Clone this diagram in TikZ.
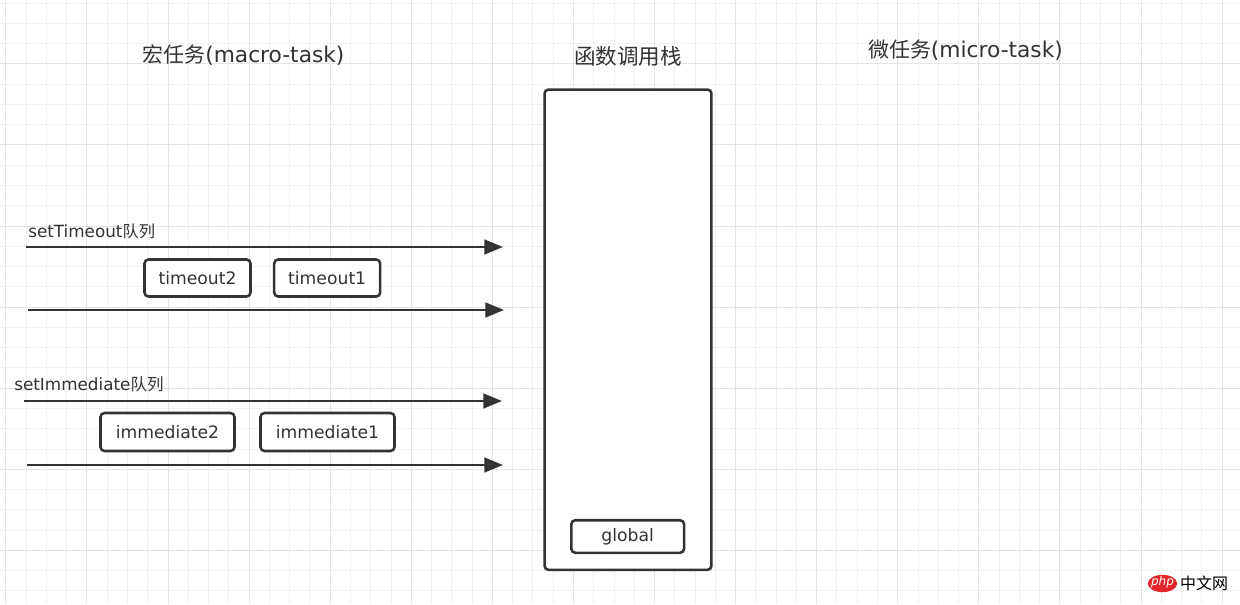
\documentclass[tikz,border=0pt]{standalone}
\usepackage{fontspec}
\setmainfont{DejaVu Sans}
\newfontfamily\cjk{Noto Sans CJK SC}
\usetikzlibrary{arrows.meta,shapes.geometric}
\definecolor{ink}{HTML}{333333}
\definecolor{gridminor}{HTML}{F1F1F1}
\definecolor{gridmajor}{HTML}{E4E4E4}
\definecolor{phpred}{HTML}{E3262B}
\tikzset{
  minorline/.style={draw=gridminor, line width=0.75pt},
  majorline/.style={draw=gridmajor, line width=0.75pt},
  taskbox/.style={draw=ink, line width=1.9pt, rounded corners=3pt, fill=white, inner sep=0pt, text=ink,
    font=\fontsize{12.9pt}{15pt}\selectfont},
  queuearrow/.style={draw=ink, line width=1.9pt, -{Triangle[length=14pt,width=11pt]}},
  titletext/.style={text=ink, inner sep=0pt, font=\fontsize{16.3pt}{18pt}\selectfont},
  labeltext/.style={text=ink, inner sep=0pt, anchor=west, font=\fontsize{12.6pt}{15pt}\selectfont}
}
\begin{document}
\begin{tikzpicture}[x=0.75pt,y=-0.75pt]
\useasboundingbox (0,0) rectangle (1240,604);
\fill[white] (0,0) rectangle (1240,604);
% grid
\foreach \k in {0,...,60}{\pgfmathsetmacro\xx{5.9+20.27*\k}\draw[minorline] (\xx,0) -- (\xx,604);}
\foreach \k in {0,...,29}{\pgfmathsetmacro\yy{3.1+20.27*\k}\draw[minorline] (0,\yy) -- (1240,\yy);}
\foreach \k in {0,4,...,60}{\pgfmathsetmacro\xx{5.9+20.27*\k}\draw[majorline] (\xx,0) -- (\xx,604);}
\foreach \k in {3,7,...,27}{\pgfmathsetmacro\yy{3.1+20.27*\k}\draw[majorline] (0,\yy) -- (1240,\yy);}

% titles
\node[titletext] (tmacro) at (243.5,55) {{\cjk\fontsize{15.7pt}{17pt}\selectfont 宏任务}(macro-task)};
\node[titletext] (tstack) at (628,56.5) {{\cjk\fontsize{16.2pt}{17pt}\selectfont 函数调用栈}};
\node[titletext] (tmicro) at (965.5,50) {{\cjk\fontsize{15.7pt}{17pt}\selectfont 微任务}(micro-task)};

% call stack
\node[taskbox, minimum width=125.2pt, minimum height=360.2pt] (stack) at (628,329.7) {};
\node[taskbox, minimum width=84.6pt, minimum height=24.4pt] (global) at (627.7,536.5) {global};

% setTimeout queue
\node[labeltext] (lto) at (28,231.5) {setTimeout{\cjk\fontsize{12.2pt}{15pt}\selectfont 队列}};
\coordinate (a1s) at (26,247);
\coordinate (a1e) at (503,247);
\draw[queuearrow] (a1s) -- (a1e);
\node[taskbox, minimum width=79.5pt, minimum height=27.75pt] (to2) at (197.5,278) {timeout2};
\node[taskbox, minimum width=79.5pt, minimum height=27.75pt] (to1) at (327.2,278) {timeout1};
\coordinate (a2s) at (28,310);
\coordinate (a2e) at (504,310);
\draw[queuearrow] (a2s) -- (a2e);

% setImmediate queue
\node[labeltext] (lim) at (14,384.5) {setImmediate{\cjk\fontsize{12.4pt}{15pt}\selectfont 队列}};
\coordinate (a3s) at (24,401);
\coordinate (a3e) at (502,401);
\draw[queuearrow] (a3s) -- (a3e);
\node[taskbox, minimum width=100.5pt, minimum height=28.5pt] (im2) at (167.5,432) {immediate2};
\node[taskbox, minimum width=100.5pt, minimum height=28.5pt] (im1) at (327.5,432) {immediate1};
\coordinate (a4s) at (27,465);
\coordinate (a4e) at (503,465);
\draw[queuearrow] (a4s) -- (a4e);

% watermark
\node[ellipse, fill=phpred, minimum width=22pt, minimum height=13pt, inner sep=0pt] (phplogo) at (1162.5,583.5) {};
\node[text=white, inner sep=0pt, font=\fontsize{9pt}{10pt}\itshape\selectfont] (phptext) at (1162.5,582.5) {php};
\node[text=black, inner sep=0pt, font=\cjk\fontsize{12pt}{13pt}\selectfont] (phpcn) at (1204,583) {中文网};
\end{tikzpicture}
\end{document}
